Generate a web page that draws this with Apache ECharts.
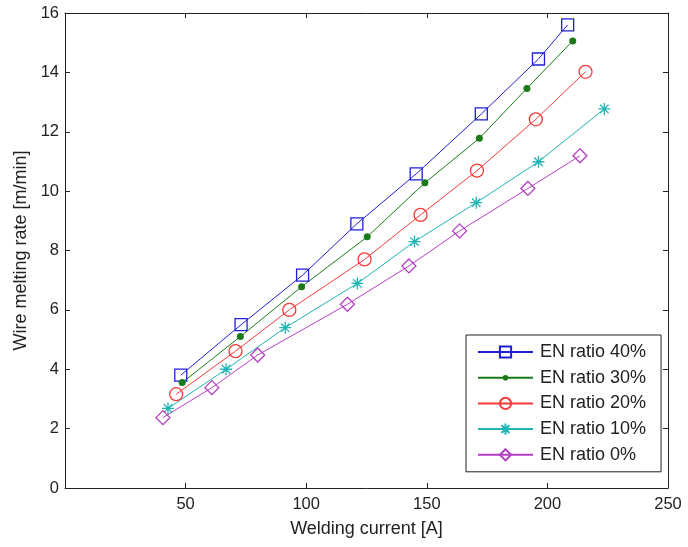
<!DOCTYPE html>
<html>
<head>
<meta charset="utf-8">
<script src="https://cdn.jsdelivr.net/npm/echarts@6/dist/echarts.min.js"></script>
<style>
  html, body { margin: 0; padding: 0; background: #fff; }
  #chart { width: 688px; height: 547px; }
</style>
</head>
<body>
<div id="chart"></div>
<script>
// valores
const seriesNames = ["EN ratio 40%", "EN ratio 30%", "EN ratio 20%", "EN ratio 10%", "EN ratio 0%"];

const x40 = [48, 73, 98.5, 121, 145.6, 172.6, 196.3, 208.4];
const y40 = [3.8, 5.5, 7.17, 8.9, 10.58, 12.6, 14.45, 15.6];

const x30 = [48.6, 72.7, 98.1, 125.3, 149.2, 171.8, 191.5, 210.5];
const y30 = [3.55, 5.1, 6.78, 8.46, 10.28, 11.78, 13.46, 15.06];

const x20 = [46.1, 70.7, 93, 124.2, 147.4, 170.8, 195.2, 215.8];
const y20 = [3.16, 4.61, 6.0, 7.7, 9.2, 10.69, 12.42, 14.02];

const x10 = [42.7, 66.8, 91.3, 121.2, 144.9, 170.5, 196.3, 223.6];
const y10 = [2.68, 4.0, 5.4, 6.89, 8.3, 9.61, 10.99, 12.77];

const x0 = [40.6, 60.9, 79.9, 117.1, 142.6, 163.6, 191.9, 213.5];
const y0 = [2.37, 3.38, 4.48, 6.19, 7.48, 8.66, 10.09, 11.19];

const xTickLabels = [50, 100, 150, 200, 250];
const yTickLabels = [0, 2, 4, 6, 8, 10, 12, 14, 16];

const pairs = (xs, ys) => xs.map((x, i) => [x, ys[i]]);

// asterisco tipo matlab
const asterisk = "path://M0,-10L0,10M-10,0L10,0M-7,-7L7,7M-7,7L7,-7";
// punto chico dentro de una caja mas grande (para que la leyenda no lo agrande)
const smallDot = "path://M-10,-10M10,10M-5,0A5,5,0,1,1,5,0A5,5,0,1,1,-5,0Z";

const textColor = "#222";
const fontFamily = "Liberation Sans, Arial, sans-serif";

const tickStyle = { show: true, inside: true, length: 5, lineStyle: { color: "#222" } };
const lineAxis = { show: true, onZero: false, lineStyle: { color: "#222", width: 1 } };

const makeSeries = (name, data, color, symbol, size, filled) => ({
  name: name,
  type: "line",
  data: data,
  symbol: symbol,
  symbolSize: size,
  showSymbol: true,
  lineStyle: { color: color, width: 1 },
  itemStyle: {
    color: filled ? color : "rgba(255,255,255,0)",
    borderColor: color,
    borderWidth: filled ? 0 : 1.3,
  },
  emphasis: { disabled: true },
  z: 3,
});

const chart = echarts.init(document.getElementById("chart"));

const option = {
  animation: false,
  backgroundColor: "#fff",
  textStyle: { fontFamily: fontFamily },
  grid: { left: 65, top: 13, right: 20, bottom: 59, containLabel: false },
  xAxis: [
    {
      type: "value",
      min: 0,
      max: 250,
      interval: 50,
      name: "Welding current [A]",
      nameLocation: "middle",
      nameGap: 32,
      nameTextStyle: { fontSize: 18, color: textColor },
      axisLine: lineAxis,
      axisTick: tickStyle,
      splitLine: { show: false },
      axisLabel: {
        fontSize: 16.5,
        color: textColor,
        margin: 8,
        formatter: (v) => (xTickLabels.includes(v) ? String(v) : ""),
      },
    },
    {
      type: "value",
      position: "top",
      min: 0,
      max: 250,
      interval: 50,
      axisLine: lineAxis,
      axisTick: tickStyle,
      axisLabel: { show: false },
      splitLine: { show: false },
    },
  ],
  yAxis: [
    {
      type: "value",
      min: 0,
      max: 16,
      interval: 2,
      name: "Wire melting rate [m/min]",
      nameLocation: "middle",
      nameGap: 33,
      nameTextStyle: { fontSize: 18, color: textColor },
      axisLine: lineAxis,
      axisTick: tickStyle,
      splitLine: { show: false },
      axisLabel: {
        fontSize: 16.5,
        color: textColor,
        margin: 6,
        formatter: (v) => (yTickLabels.includes(v) ? String(v) : ""),
      },
    },
    {
      type: "value",
      position: "right",
      min: 0,
      max: 16,
      interval: 2,
      axisLine: lineAxis,
      axisTick: tickStyle,
      axisLabel: { show: false },
      splitLine: { show: false },
    },
  ],
  legend: {
    orient: "vertical",
    left: 466,
    top: 335,
    padding: [8, 15, 8, 11],
    itemGap: 7.7,
    itemWidth: 55,
    itemHeight: 14,
    borderColor: "#222",
    borderWidth: 1,
    borderRadius: 0,
    backgroundColor: "#fff",
    textStyle: { fontSize: 18, color: textColor, padding: [0, 0, 0, 2] },
    data: seriesNames,
  },
  series: [
    makeSeries(seriesNames[0], pairs(x40, y40), "#1f1fd6", "rect", 12, false),
    makeSeries(seriesNames[1], pairs(x30, y30), "#1a7a1a", smallDot, 14, true),
    makeSeries(seriesNames[2], pairs(x20, y20), "#f53a3a", "circle", 13, false),
    makeSeries(seriesNames[3], pairs(x10, y10), "#20b5b5", asterisk, 12, false),
    makeSeries(seriesNames[4], pairs(x0, y0), "#b53fc4", "diamond", 14, false),
  ],
};

chart.setOption(option);
window.addEventListener("resize", chart.resize);
</script>
</body>
</html>
